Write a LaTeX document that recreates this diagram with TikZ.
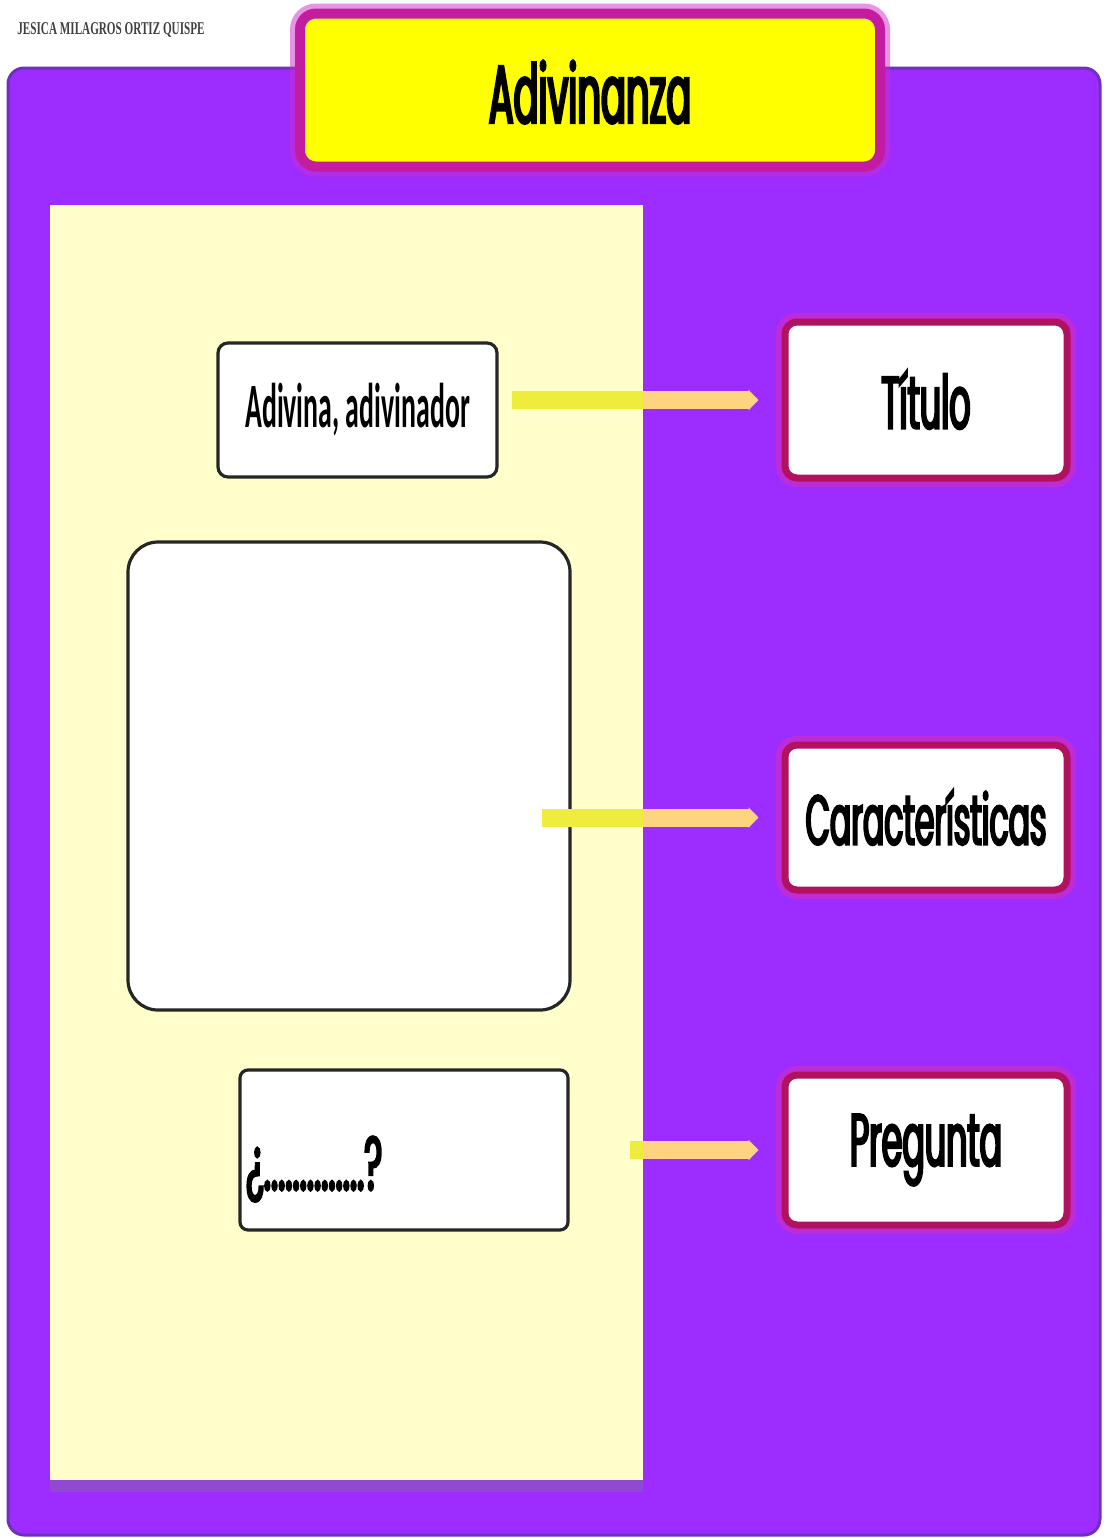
\documentclass[tikz,border=0pt]{standalone}
\usepackage{fontspec}
\usepackage{tikz}
\usetikzlibrary{arrows.meta, positioning, shadows}
\newfontfamily\gotica[FakeStretch=0.45, FakeBold=3]{Poppins}
\newfontfamily\calibri[FakeStretch=0.44]{Carlito}
\newfontfamily\firma[FakeStretch=0.62]{Liberation Serif}
\definecolor{morado}{RGB}{156,44,255}
\definecolor{moradoosc}{RGB}{112,48,190}
\definecolor{crema}{RGB}{255,255,204}
\definecolor{amarillo}{RGB}{255,255,0}
\definecolor{fucsia}{RGB}{196,28,160}
\definecolor{carmin}{RGB}{176,18,96}
\definecolor{brillo}{RGB}{205,45,200}
\definecolor{flechaam}{RGB}{238,236,60}
\definecolor{durazno}{RGB}{255,212,128}

\begin{document}
\begin{tikzpicture}[
        x=0.5pt, y=-0.5pt,
        caja/.style={rectangle, draw=black!85, line width=1.6pt, fill=white, rounded corners=5pt, inner sep=0pt},
        etiqueta/.style={rectangle, draw=carmin, line width=3.5pt, fill=white, rounded corners=6pt, minimum width=141pt, preaction={draw=brillo, line width=9pt, opacity=0.7}, font=\gotica\fontsize{37}{40}\selectfont},
        flecha/.style={-{Triangle[length=5pt, width=10pt]}, line width=9pt, durazno}
    ]
        \useasboundingbox (0,0) rectangle (1105,1538);
        \fill[white] (0,0) rectangle (1105,1538);

        \node[font=\firma\bfseries\fontsize{9}{10}\selectfont, text=black!75] (autor) at (111,30) {JESICA MILAGROS ORTIZ QUISPE};

        \node[rectangle, fill=morado, draw=moradoosc, line width=1.5pt, rounded corners=8pt, minimum width=546pt, minimum height=733.5pt, inner sep=0pt] (panel) at (554,801.5) {};
        \node[rectangle, fill=crema, minimum width=296.5pt, minimum height=637.5pt, inner sep=0pt, drop shadow={opacity=0.35, shadow xshift=0pt, shadow yshift=-6pt}] (fondo) at (346.5,842.5) {};

        \node[rectangle, fill=amarillo, draw=fucsia, line width=5pt, rounded corners=8pt, minimum width=290pt, minimum height=76.5pt, preaction={draw=brillo, line width=10pt, opacity=0.5}, font=\gotica\fontsize{41}{44}\selectfont] (cabecera) at (590,90) {\raisebox{-16.5pt}[0pt][0pt]{Adivinanza}};

        \node[caja, minimum width=139.5pt, minimum height=67pt, font=\calibri\bfseries\fontsize{31.6}{34}\selectfont] (adiv) at (357.5,410) {Adivina, adivinador};
        \node[caja, rounded corners=15pt, minimum width=221pt, minimum height=234pt] (cuerpo) at (349,776) {};
        \node[caja, rounded corners=4pt, text width=158pt, inner xsep=3pt, align=left, minimum height=80pt, font=\gotica\fontsize{38}{40}\selectfont] (preg) at (404,1150) {\raisebox{-20pt}[0pt][0pt]{¿..............?}};

        \node[etiqueta, minimum height=78pt] (titulo) at (926,400) {Título};
        \node[etiqueta, minimum height=72.5pt, below=130pt of titulo, font=\gotica\fontsize{35}{40}\selectfont] (caract) {Características};
        \node[etiqueta, minimum height=75pt, below=89pt of caract] (pregunta) {Pregunta};

        % flechas: durazno sobre el morado, amarillas sobre la crema
        \foreach \a/\s/\b in {adiv/6.5pt/titulo, cuerpo/-15pt/caract, preg/30pt/pregunta}
            \draw[flecha] ([xshift=\s]\a.east |- \b.west) -- ([xshift=-11.5pt]\b.west);
        \begin{scope}
            \clip (fondo.north west) rectangle (fondo.south east);
            \foreach \a/\s/\b in {adiv/6.5pt/titulo, cuerpo/-15pt/caract, preg/30pt/pregunta}
                \draw[flecha, flechaam] ([xshift=\s]\a.east |- \b.west) -- ([xshift=-11.5pt]\b.west);
        \end{scope}
    \end{tikzpicture}
\end{document}
